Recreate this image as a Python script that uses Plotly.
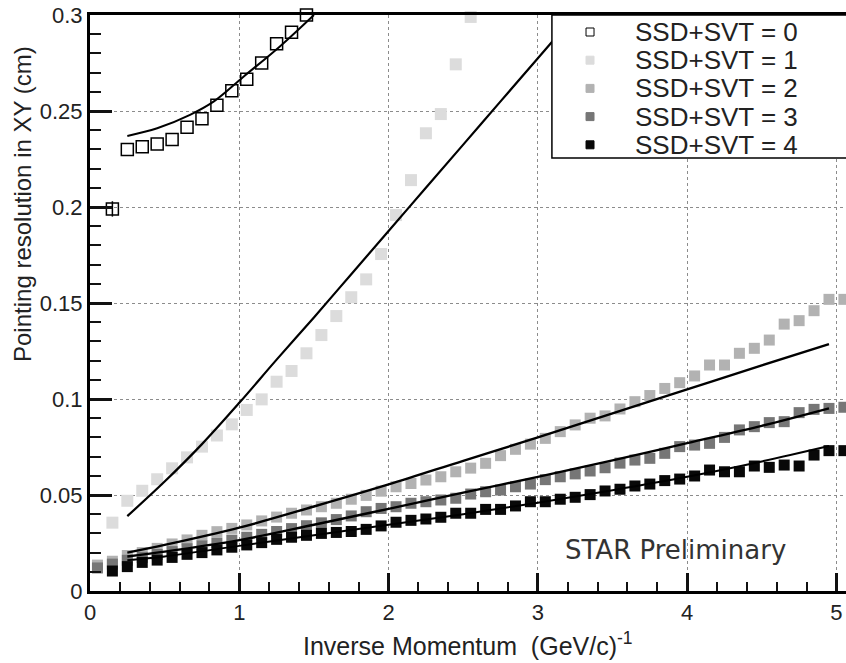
import plotly.graph_objects as go

# Inverse-momentum bin centres, (GeV/c)^-1
inv_p = [0.05, 0.15, 0.25, 0.35, 0.45, 0.55, 0.65, 0.75, 0.85, 0.95,
         1.05, 1.15, 1.25, 1.35, 1.45, 1.55, 1.65, 1.75, 1.85, 1.95,
         2.05, 2.15, 2.25, 2.35, 2.45, 2.55, 2.65, 2.75, 2.85, 2.95,
         3.05, 3.15, 3.25, 3.35, 3.45, 3.55, 3.65, 3.75, 3.85, 3.95,
         4.05, 4.15, 4.25, 4.35, 4.45, 4.55, 4.65, 4.75, 4.85, 4.95,
         5.05]

series_names = ["SSD+SVT = 0", "SSD+SVT = 1", "SSD+SVT = 2",
                "SSD+SVT = 3", "SSD+SVT = 4"]

# Pointing resolution in XY (cm), one list per number of silicon hits
res_hits0 = [0.199, 0.230, 0.2314, 0.2328, 0.2352, 0.2415, 0.246, 0.253,
             0.2606, 0.2665, 0.275, 0.285, 0.291, 0.300]
res_hits0_err = [0.004, 0, 0, 0, 0, 0, 0, 0, 0, 0, 0, 0, 0, 0]
res_hits1 = [0.0356, 0.047, 0.0522, 0.0582, 0.0639, 0.0696, 0.0752, 0.081,
             0.0868, 0.0943, 0.0998, 0.109, 0.1146, 0.1238, 0.1333, 0.1432,
             0.153, 0.1623, 0.1755, 0.1958, 0.214, 0.2384, 0.2484, 0.2743,
             0.299]
res_hits2 = [0.0135, 0.0155, 0.0185, 0.0200, 0.0222, 0.0245, 0.0266, 0.0290,
             0.0309, 0.0326, 0.0344, 0.0365, 0.0385, 0.0405, 0.0422, 0.0439,
             0.0457, 0.0478, 0.0498, 0.0520, 0.0543, 0.0560, 0.0578, 0.0595,
             0.0621, 0.0640, 0.0665, 0.0705, 0.0738, 0.0765, 0.0795, 0.0830,
             0.0865, 0.0900, 0.0912, 0.0948, 0.0986, 0.1018, 0.1055, 0.1085,
             0.1120, 0.1177, 0.1177, 0.1238, 0.1264, 0.1307, 0.1390, 0.1408,
             0.1460, 0.1519, 0.1519]
res_hits3 = [0.0120, 0.0140, 0.0160, 0.0175, 0.0190, 0.0205, 0.0220, 0.0235,
             0.0250, 0.0265, 0.0280, 0.0295, 0.0310, 0.0325, 0.0340, 0.0355,
             0.0372, 0.0391, 0.0413, 0.0430, 0.0439, 0.0457, 0.0465, 0.0474,
             0.0483, 0.0505, 0.0517, 0.0526, 0.0543, 0.0557, 0.0580, 0.0595,
             0.0610, 0.0625, 0.0642, 0.0666, 0.0682, 0.0691, 0.0717, 0.0752,
             0.0760, 0.0769, 0.0800, 0.0839, 0.0856, 0.0877, 0.0882, 0.0929,
             0.0946, 0.0951, 0.0957]
res_hits4 = [0.0104, 0.0127, 0.0149, 0.0161, 0.0175, 0.0191, 0.0200, 0.0214,
             0.0228, 0.0240, 0.0252, 0.0269, 0.0280, 0.0290, 0.0300, 0.0305,
             0.0310, 0.0321, 0.0339, 0.0358, 0.0368, 0.0375, 0.0384, 0.0405,
             0.0405, 0.0425, 0.0425, 0.0443, 0.0465, 0.0465, 0.0478, 0.0488,
             0.0502, 0.0521, 0.0530, 0.0547, 0.0557, 0.0575, 0.0583, 0.0599,
             0.0630, 0.0621, 0.0621, 0.0651, 0.0644, 0.0656, 0.0651, 0.0708,
             0.0731, 0.0731]

# Fitted resolution curves, sampled along 1/p
fit0_x = [0.25, 0.45, 0.67, 0.83, 1.03, 1.27, 1.50]
fit0_y = [0.237, 0.241, 0.248, 0.255, 0.268, 0.2835, 0.300]
fit1_x = [0.25, 0.5, 0.75, 1.0, 1.25, 1.5, 1.75, 2.0, 2.25, 2.5, 2.75,
          3.0, 3.25]
fit1_y = [0.039, 0.057, 0.0765, 0.098, 0.1205, 0.1425, 0.165, 0.1875,
          0.210, 0.2325, 0.255, 0.2775, 0.300]
fit_x = [0.25, 0.5, 1.0, 1.5, 2.0, 2.5, 3.0, 3.5, 4.0, 4.5, 4.95]
fit2_y = [0.0200, 0.0240, 0.0330, 0.0440, 0.0555, 0.0678, 0.0800, 0.0925,
          0.1050, 0.1175, 0.1286]
fit3_y = [0.0180, 0.0205, 0.0265, 0.0345, 0.0428, 0.0512, 0.0594, 0.0680,
          0.0770, 0.0860, 0.0951]
fit4_y = [0.0160, 0.0180, 0.0235, 0.0290, 0.0345, 0.0400, 0.0460, 0.0525,
          0.0595, 0.0675, 0.0755]

colors = ["black", "#dcdcdc", "#b2b2b2", "#767676", "#080808"]
MS = 11
TICK_COLOR = "#111111"

fig = go.Figure()

fig.add_trace(go.Scatter(
    x=inv_p[1:1 + len(res_hits0)], y=res_hits0, mode="markers",
    marker=dict(symbol="square-open", size=MS + 1, color=colors[0],
                line=dict(width=1.5, color=colors[0])),
    error_y=dict(type="data", array=res_hits0_err, width=0,
                 thickness=1.5, color="black"),
    cliponaxis=False, showlegend=False))
fig.add_trace(go.Scatter(
    x=inv_p[1:1 + len(res_hits1)], y=res_hits1, mode="markers",
    marker=dict(symbol="square", size=MS + 1, color=colors[1]),
    cliponaxis=False, showlegend=False))
fig.add_trace(go.Scatter(
    x=inv_p, y=res_hits2, mode="markers",
    marker=dict(symbol="square", size=MS, color=colors[2]),
    cliponaxis=False, showlegend=False))
fig.add_trace(go.Scatter(
    x=inv_p, y=res_hits3, mode="markers",
    marker=dict(symbol="square", size=MS, color=colors[3]),
    cliponaxis=False, showlegend=False))
fig.add_trace(go.Scatter(
    x=inv_p[1:], y=res_hits4, mode="markers",
    marker=dict(symbol="square", size=MS, color=colors[4]),
    cliponaxis=False, showlegend=False))

# fit curves drawn over the points
for fx, fy, w in [(fit0_x, fit0_y, 2.0), (fit1_x, fit1_y, 2.2),
                  (fit_x, fit2_y, 2.4), (fit_x, fit3_y, 2.4),
                  (fit_x, fit4_y, 2.0)]:
    fig.add_trace(go.Scatter(
        x=fx, y=fy, mode="lines",
        line=dict(color="black", width=w, shape="spline"),
        showlegend=False))

axis_common = dict(
    showline=True, linecolor="black", linewidth=3,
    ticks="inside", tickcolor=TICK_COLOR, tickwidth=2.5,
    showgrid=True, gridcolor="#8c8c8c", griddash="dot", gridwidth=1,
    zeroline=False, layer="above traces",
    tickfont=dict(family="Liberation Sans", size=22, color="#222"),
)

fig.update_xaxes(
    range=[0, 5.064], tickmode="linear", tick0=0, dtick=1, ticklen=18,
    mirror=True, ticklabelstandoff=0,
    minor=dict(dtick=0.2, ticks="inside", ticklen=9, tickwidth=2,
               tickcolor=TICK_COLOR, showgrid=False),
    **axis_common)
fig.update_yaxes(
    range=[0, 0.3], tickmode="linear", tick0=0, dtick=0.05, ticklen=22,
    minor=dict(dtick=0.01, ticks="inside", ticklen=11, tickwidth=2,
               tickcolor=TICK_COLOR, showgrid=False),
    **axis_common)

# legend box with marker swatches and labels
shapes = [dict(type="rect", xref="paper", yref="paper",
               x0=0.611, x1=1.05, y0=0.7517, y1=1.0,
               line=dict(color="black", width=1.5), fillcolor="white",
               layer="above")]
annotations = []
for i, name in enumerate(series_names):
    row_y = 1 - (17 + 28.2 * i) / 576
    shapes.append(dict(
        type="rect", xref="paper", yref="paper",
        xsizemode="pixel", ysizemode="pixel",
        xanchor=0.6614, yanchor=row_y, x0=-4, x1=4, y0=-4, y1=4,
        fillcolor="white" if i == 0 else colors[i],
        line=dict(color="black" if i == 0 else colors[i], width=1),
        layer="above"))
    annotations.append(dict(
        text=name, xref="paper", yref="paper", x=0.7183, y=row_y,
        xanchor="left", yanchor="middle", showarrow=False,
        font=dict(family="Liberation Sans", size=26, color="#222")))

annotations.append(dict(
    text="STAR Preliminary", xref="paper", yref="paper",
    x=(675 - 90) / 756, y=(591 - 550) / 576, xanchor="center",
    yanchor="middle", showarrow=False,
    font=dict(family="DejaVu Sans", size=26, color="#333")))
annotations.append(dict(
    text="Inverse Momentum&nbsp; (GeV/c)<sup>-1</sup>",
    xref="paper", yref="paper", x=(468 - 90) / 756, y=-(644 - 591) / 576,
    xanchor="center", yanchor="middle", showarrow=False,
    font=dict(family="Liberation Sans", size=25, color="#222")))
annotations.append(dict(
    text="Pointing resolution in XY (cm)", textangle=-90,
    xref="paper", yref="paper", x=-(90 - 22) / 756, y=(591 - 204) / 576,
    xanchor="center", yanchor="middle", showarrow=False,
    font=dict(family="Liberation Sans", size=24, color="#222")))

fig.update_layout(
    width=846, height=663,
    margin=dict(l=90, r=0, t=15, b=72),
    paper_bgcolor="white", plot_bgcolor="white",
    showlegend=False,
    shapes=shapes, annotations=annotations,
)

fig.write_html("out.html")
